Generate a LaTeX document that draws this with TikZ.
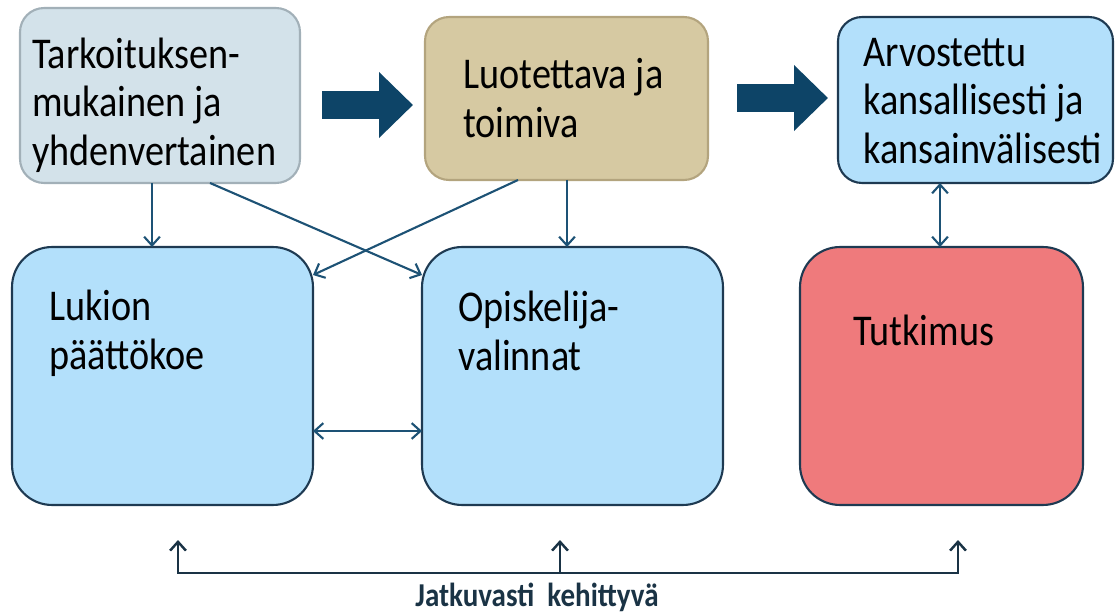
\documentclass[tikz,border=0pt]{standalone}
\usepackage{fontspec}
\setmainfont{Carlito}[FakeStretch=0.87]
\usetikzlibrary{arrows.meta}

\definecolor{greyfill}{HTML}{D3E2EA}
\definecolor{greyline}{HTML}{A2B0B8}
\definecolor{tanfill}{HTML}{D6C9A2}
\definecolor{tanline}{HTML}{B3A47E}
\definecolor{skyfill}{HTML}{B3E0FB}
\definecolor{redfill}{HTML}{EF7A7C}
\definecolor{navyline}{HTML}{1E3A52}
\definecolor{linkblue}{HTML}{1D5275}
\definecolor{bignavy}{HTML}{0D4467}
\definecolor{basenavy}{HTML}{1A3345}

\tikzset{
  topbox/.style={rounded corners=0.48cm, line width=1.2pt, inner sep=0pt, outer sep=0pt},
  lowbox/.style={rounded corners=0.8cm, line width=1.2pt, draw=navyline, inner sep=0pt, outer sep=0pt},
  boxtext/.style={anchor=base west, align=left, inner sep=0pt,
    font=\fontsize{25}{27.5}\selectfont},
  barb/.tip={Straight Barb[length=5pt,width=9pt]},
  link/.style={draw=linkblue, line width=1.2pt, -barb},
  twolink/.style={draw=linkblue, line width=1.2pt, barb-barb},
  biglink/.style={draw=bignavy, line width=0.56cm, -{Triangle[width=1.28cm,length=0.68cm]}},
  baselink/.style={draw=basenavy, line width=1.4pt}
}

\begin{document}
\begin{tikzpicture}[x=0.02cm, y=-0.02cm]
  \useasboundingbox (0,0) rectangle (1117,612);

  % Upper row
  \node[topbox, draw=greyline, fill=greyfill, minimum width=5.6cm, minimum height=3.5cm] (tark) at (160,95.5) {};
  \node[topbox, draw=tanline, fill=tanfill, minimum width=5.66cm, minimum height=3.26cm] (luot) at (566.5,98.5) {};
  \node[topbox, draw=navyline, fill=skyfill, minimum width=5.5cm, minimum height=3.32cm] (arvo) at (975.5,100) {};

  % (base anchor sits on the last line)
  \node[boxtext] (tarkt) at (32,165) {Tarkoituksen-\\mukainen ja\\yhdenvertainen};
  \node[boxtext] (luott) at (463,137) {Luotettava ja\\toimiva};
  \node[boxtext] (arvot) at (863,163) {Arvostettu\\kansallisesti ja\\kansainvälisesti};

  % Lower row
  \node[lowbox, fill=skyfill, minimum width=6.02cm, minimum height=5.16cm] (lukio) at (162.5,376) {};
  \node[lowbox, fill=skyfill, minimum width=6.02cm, minimum height=5.16cm] (valin) at (572.5,376) {};
  \node[lowbox, fill=redfill, minimum width=5.66cm, minimum height=5.16cm] (tutk) at (941.5,376) {};

  \node[boxtext] (lukiot) at (49,369) {Lukion\\päättökoe};
  \node[boxtext] (valint) at (458,370) {Opiskelija-\\valinnat};
  \node[boxtext] (tutkt) at (853,345) {Tutkimus};

  % Big arrows
  \coordinate (big1s) at (322,105);
  \coordinate (big1e) at (413,105);
  \coordinate (big2s) at (737,98);
  \coordinate (big2e) at (828,98);
  \draw[biglink] (big1s) -- (big1e);
  \draw[biglink] (big2s) -- (big2e);

  % Thin connectors
  \draw[link] (152,0 |- tark.south) -- (152,0 |- lukio.north);
  \draw[link] (210,0 |- tark.south) -- (valin.west |- 0,275);
  \draw[link] (518,0 |- luot.south) -- (lukio.east |- 0,275);
  \draw[link] (567,0 |- luot.south) -- (567,0 |- valin.north);
  \draw[twolink] (940,0 |- arvo.south) -- (940,0 |- tutk.north);
  \draw[twolink] (lukio.east |- 0,431) -- (valin.west |- 0,431);

  % Continuous development
  \coordinate (upL) at (178,540);
  \coordinate (upM) at (560,540);
  \coordinate (upR) at (958,540);
  \coordinate (footL) at (178,573);
  \coordinate (footM) at (560,573);
  \coordinate (footR) at (958,573);
  \draw[baselink, barb-barb] (upL) -- (footL) -- (footR) -- (upR);
  \draw[baselink, -barb] (footM) -- (upM);
  \node[font=\fontsize{19}{21}\selectfont\bfseries, text=basenavy, inner sep=0pt] (jatk) at (537,597) {Jatkuvasti\ \ kehittyvä};
\end{tikzpicture}
\end{document}
